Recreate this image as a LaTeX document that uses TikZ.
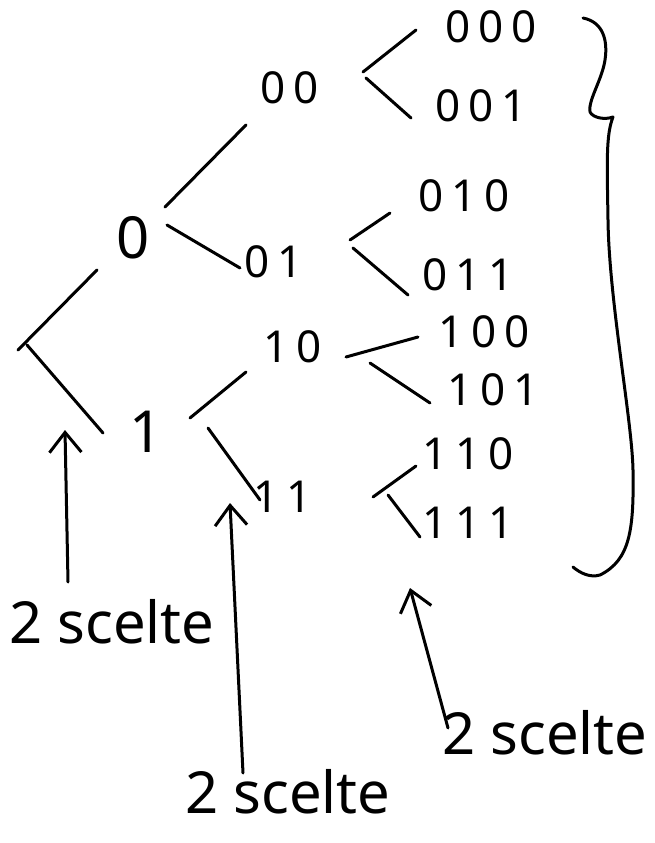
\documentclass[tikz,border=0pt]{standalone}
\usepackage{fontspec}
\setmainfont{Noto Sans}
\usetikzlibrary{arrows.meta}
\begin{document}
\begin{tikzpicture}[x=1pt,y=-1pt,
  line width=3pt, line cap=round, line join=round,
  lbl/.style={inner sep=0pt, font=\fontsize{44}{48}\selectfont\addfontfeatures{LetterSpace=18}},
  big/.style={inner sep=0pt, font=\fontsize{58}{62}\selectfont},
  note/.style={inner sep=0pt, font=\fontsize{58}{62}\selectfont},
  arr/.style={-{Straight Barb[length=20pt,width=32pt]}}]
\useasboundingbox (0,0) rectangle (654,843);
% nodes
\coordinate (root) at (20,348);
\node[big] (n0) at (133,238) {0};
\node[big] (n1) at (146,432) {1};
\node[lbl] (n00) at (290,88) {00};
\node[lbl] (n01) at (274,262) {01};
\node[lbl] (n10) at (293,347) {10};
\node[lbl] (n11) at (283,497) {11};
\node[lbl] (n000) at (491,27) {000};
\node[lbl] (n001) at (481,106) {001};
\node[lbl] (n010) at (464,196) {010};
\node[lbl] (n011) at (468,275) {011};
\node[lbl] (n100) at (484,332) {100};
\node[lbl] (n101) at (493,390) {101};
\node[lbl] (n110) at (468,454) {110};
\node[lbl] (n111) at (468,523) {111};
% edges
\draw ([shift={(-2,2)}]root) -- ([shift={(-36,32)}]n0.center);
\draw ([shift={(7,-3)}]root) -- ([shift={(-43,1)}]n1.center);
\draw ([shift={(32,-31)}]n0.center) -- ([shift={(-44,37)}]n00.center);
\draw ([shift={(34,-13)}]n0.center) -- ([shift={(-34,6)}]n01.center);
\draw ([shift={(44,-14)}]n1.center) -- ([shift={(-47,25)}]n10.center);
\draw ([shift={(62,-4)}]n1.center) -- ([shift={(-23,3)}]n11.center);
\draw ([shift={(73,-16)}]n00.center) -- ([shift={(-75,3)}]n000.center);
\draw ([shift={(76,-10)}]n00.center) -- ([shift={(-70,12)}]n001.center);
\draw ([shift={(76,-22)}]n01.center) -- ([shift={(-74,17)}]n010.center);
\draw ([shift={(79,-14)}]n01.center) -- ([shift={(-60,20)}]n011.center);
\draw ([shift={(53,10)}]n10.center) -- ([shift={(-66,5)}]n100.center);
\draw ([shift={(77,16)}]n10.center) -- ([shift={(-63,13)}]n101.center);
\draw ([shift={(90,0)}]n11.center) -- ([shift={(-52,12)}]n110.center);
\draw ([shift={(105,-2)}]n11.center) -- ([shift={(-48,14)}]n111.center);
% brace
\draw (583,18) .. controls (603,22) and (608,40) .. (605,60)
  .. controls (602,80) and (588,100) .. (590,112)
  .. controls (593,118) and (605,120) .. (613,117)
  .. controls (606,135) and (607,160) .. (608,220)
  .. controls (609,300) and (632,420) .. (633,470)
  .. controls (634,530) and (630,560) .. (600,575)
  .. controls (590,578) and (580,573) .. (573,567);
% notes and arrows
\node[note] (s1) at (112,622) {2 scelte};
\node[note] (s2) at (288,792) {2 scelte};
\node[note] (s3) at (545,733) {2 scelte};
\coordinate (t1) at (65,430);
\coordinate (t2) at (230,503);
\coordinate (t3) at (410,588);
\draw[arr] ([shift={(-44,-40)}]s1.center) -- (t1);
\draw[arr] ([shift={(-45,-19)}]s2.center) -- (t2);
\draw[arr] ([shift={(-97,-5)}]s3.center) -- (t3);
\end{tikzpicture}
\end{document}
